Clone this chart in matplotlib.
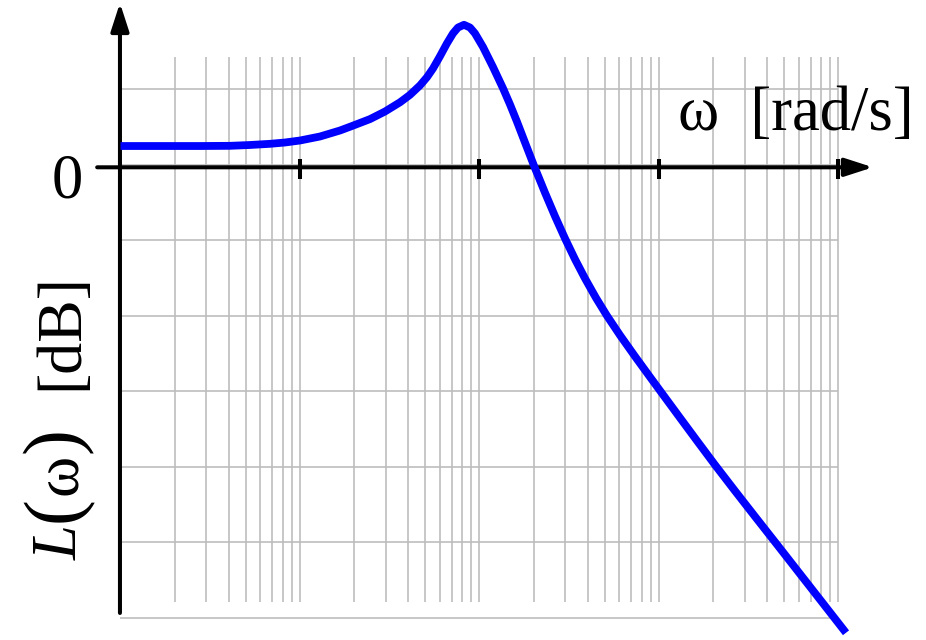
import matplotlib.pyplot as plt

# magnitude curve: log10(omega) and L in dB
log_omega = [0.0, 0.443, 0.610, 0.7214, 0.8329, 0.9164, 1.0, 1.1114, 1.2228,
             1.2897, 1.3900, 1.4735, 1.5571, 1.6128, 1.6685, 1.7075, 1.7409,
             1.7799, 1.8189, 1.8524, 1.8802, 1.9136, 1.9471, 1.9749, 2.0195,
             2.0752, 2.1309, 2.1699, 2.2089, 2.2535, 2.3036, 2.3649, 2.4206,
             2.4763, 2.5320, 2.5877, 2.6490, 2.7086, 2.7827, 2.8663, 2.9499,
             3.0223, 3.1170, 3.2117, 3.3120, 3.4234, 3.5404, 3.6557, 3.7632,
             3.8691, 3.9805, 4.0418]
mag_db = [4.90, 4.90, 4.95, 5.17, 5.48, 5.83, 6.36, 7.42, 9.01,
          10.20, 12.03, 14.04, 16.48, 18.46, 20.95, 23.13, 25.43,
          28.68, 32.11, 34.73, 36.29, 37.01, 36.29, 34.73, 31.13,
          25.83, 20.20, 15.92, 11.34, 5.83, -0.32, -7.47, -13.70,
          -19.58, -25.09, -30.17, -35.34, -39.95, -45.22, -50.83, -56.29,
          -60.98, -67.10, -73.19, -79.58, -86.46, -93.59, -100.56, -107.10,
          -113.54, -120.32, -124.05]

decades = [1, 10, 100, 1000]
minor_steps = [2, 3, 4, 5, 6, 7, 8, 9, 10]
grid_db = [20, 0, -20, -40, -60, -80, -100, -120]
tick_omega = [10, 100, 1000, 10000]
axis_db = -0.74

# y label pieces: text, size, style, x shift (px), gap after (px)
ylabel_parts = [('L', 45, 'italic', 0, 3),
                ('(', 56, 'normal', -1, 1),
                ('ω', 45, 'normal', 0, 1),
                (')', 56, 'normal', -1, 37),
                ('[dB]', 46, 'normal', 0, 0)]

plt.rcParams['font.family'] = ['Liberation Serif', 'DejaVu Serif']

W, H = 926, 640
fig = plt.figure(figsize=(W / 100, H / 100), dpi=100)
ax = fig.add_axes([0, 0, 1, 1])
ax.set_xscale('log')
ax.set_xlim(10 ** -0.6713, 10 ** 4.4875)
ax.set_ylim(-125.96, 43.58)
ax.axis('off')

# log grid
grid_x = [d * k for d in decades for k in minor_steps]
ax.vlines(grid_x, -116.0, 28.56, color='#bdbdbd', lw=1.2, zorder=1)
ax.hlines(grid_db, 1, 1e4, color='#bdbdbd', lw=1.2, zorder=1)

# axes with arrow heads
arrow = dict(arrowstyle='-|>,head_length=1.7,head_width=0.55', color='k',
             lw=2.9, shrinkA=0, shrinkB=0, mutation_scale=10)
ax.annotate('', xy=(10 ** 4.192, axis_db), xytext=(10 ** -0.13, axis_db),
            arrowprops=arrow, zorder=3)
ax.annotate('', xy=(10 ** -0.003, 42.8), xytext=(10 ** -0.003, -118.8),
            arrowprops=arrow, zorder=3)
ax.vlines(tick_omega, -3.84, 1.46, color='k', lw=2.9, zorder=3)

ax.plot([10 ** v for v in log_omega], mag_db, color='#0000ff', lw=5.6,
        solid_capstyle='butt', solid_joinstyle='round', zorder=4)

fig.text(83 / W, 1 - 198 / H, '0', ha='right', va='baseline', fontsize=45)
fig.text(678 / W, 1 - 130 / H, 'ω  [rad/s]', ha='left', va='baseline',
         fontsize=45)

# rotated axis label, built piece by piece so the brackets can be taller
renderer = fig.canvas.get_renderer()
y_pos = 560
base_x = 77
for txt, size, style, dx, gap in ylabel_parts:
    t = fig.text((base_x + dx) / W, 1 - y_pos / H, txt, rotation=90,
                 rotation_mode='anchor', ha='left', va='baseline',
                 fontsize=size, style=style)
    bb = t.get_window_extent(renderer)
    y_pos -= bb.height + gap

fig.savefig('out.png', dpi=100, facecolor='white')
